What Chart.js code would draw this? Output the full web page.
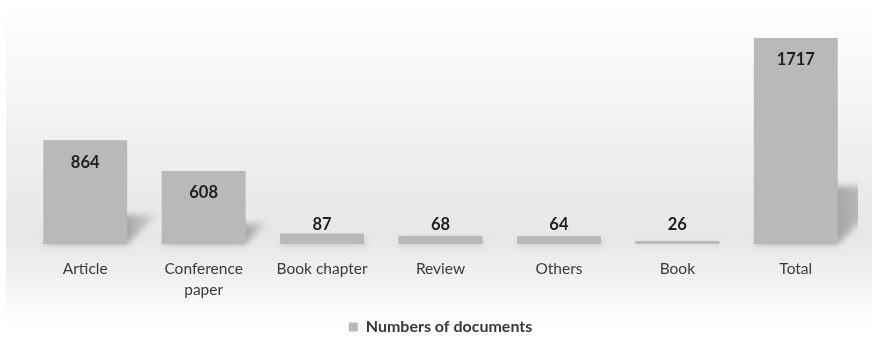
<!DOCTYPE html>
<html>
<head>
<meta charset="utf-8">
<script src="https://cdn.jsdelivr.net/npm/chart.js@4.4.1/dist/chart.umd.min.js"></script>
<style>
  html, body { margin: 0; padding: 0; background: #ffffff; }
  #wrap { width: 872px; height: 338px; position: relative; }
</style>
</head>
<body>
<div id="wrap"><canvas id="chart" width="872" height="338"></canvas></div>
<script>
// Document types and their counts
const categories = ['Article', ['Conference', 'paper'], 'Book chapter', 'Review', 'Others', 'Book', 'Total'];
const documentCounts = [864, 608, 87, 68, 64, 26, 1717];
const seriesName = 'Numbers of documents';

const BAR_COLOR = '#b9b9b9';
const FONT = 'Lato, "Open Sans", sans-serif';

// Soft vertical gradient behind the whole chart
const backdrop = {
  id: 'backdrop',
  beforeDraw(chart) {
    const { ctx, width, height } = chart;
    ctx.save();
    ctx.fillStyle = '#ffffff';
    ctx.fillRect(0, 0, width, height);
    const g = ctx.createLinearGradient(0, 0, 0, height);
    g.addColorStop(0.00, '#ffffff');
    g.addColorStop(0.25, '#f6f6f6');
    g.addColorStop(0.55, '#ebebeb');
    g.addColorStop(0.70, '#e7e7e7');
    g.addColorStop(0.80, '#efefef');
    g.addColorStop(0.92, '#fcfcfc');
    g.addColorStop(1.00, '#ffffff');
    ctx.fillStyle = g;
    ctx.fillRect(6, 0, width - 6, height);
    ctx.restore();
  }
};

// Slanted cast shadow behind each bar
const barShadow = {
  id: 'barShadow',
  beforeDatasetsDraw(chart) {
    const { ctx } = chart;
    const meta = chart.getDatasetMeta(0);
    ctx.save();
    ctx.beginPath();
    ctx.rect(0, 0, chart.width - 14, chart.height);
    ctx.clip();
    ctx.filter = 'blur(3px)';
    meta.data.forEach(bar => {
      const h = bar.base - bar.y;
      const s = 0.28 * h;
      const left = bar.x - bar.width / 2;
      const right = bar.x + bar.width / 2;
      const g = ctx.createLinearGradient(right, 0, right + s, 0);
      g.addColorStop(0, 'rgba(110,110,110,0.55)');
      g.addColorStop(1, 'rgba(140,140,140,0.25)');
      ctx.fillStyle = g;
      ctx.beginPath();
      ctx.moveTo(left, bar.base);
      ctx.lineTo(right, bar.base);
      ctx.lineTo(right + s, bar.base - s);
      ctx.lineTo(left + s, bar.base - s);
      ctx.closePath();
      ctx.fill();
    });
    ctx.restore();
  }
};

// Bold value labels: inside the top of tall bars, just above short ones
const valueLabels = {
  id: 'valueLabels',
  afterDatasetsDraw(chart) {
    const { ctx } = chart;
    const meta = chart.getDatasetMeta(0);
    const values = chart.data.datasets[0].data;
    ctx.save();
    ctx.font = 'bold 16.5px ' + FONT;
    ctx.fillStyle = '#1e1e1e';
    ctx.textAlign = 'center';
    ctx.textBaseline = 'middle';
    meta.data.forEach((bar, i) => {
      const y = Math.min(bar.y + 22, bar.base - 19);
      ctx.fillText(String(values[i]), bar.x, y);
    });
    ctx.restore();
  }
};

new Chart(document.getElementById('chart'), {
  type: 'bar',
  data: {
    labels: categories,
    datasets: [{
      label: seriesName,
      data: documentCounts,
      backgroundColor: BAR_COLOR,
      borderWidth: 0,
      barPercentage: 0.886,
      categoryPercentage: 0.8
    }]
  },
  options: {
    responsive: false,
    animation: false,
    devicePixelRatio: 1,
    layout: { padding: { top: 4, left: 26, right: 17, bottom: 0 } },
    plugins: {
      tooltip: { enabled: false },
      legend: {
        position: 'bottom',
        maxHeight: 29,
        labels: {
          boxWidth: 9,
          boxHeight: 9,
          padding: 10,
          color: '#383838',
          font: { family: FONT, size: 16, weight: 'bold' }
        }
      }
    },
    scales: {
      x: {
        grid: { display: false, drawTicks: false },
        border: { display: false },
        afterFit(scale) { scale.height = 65; },
        ticks: {
          color: '#3a3a3a',
          padding: 14,
          maxRotation: 0,
          autoSkip: false,
          font: { family: FONT, size: 15.5, lineHeight: 1.36 }
        }
      },
      y: {
        display: false,
        min: 0,
        max: 2000
      }
    }
  },
  plugins: [backdrop, barShadow, valueLabels]
});
</script>
</body>
</html>
